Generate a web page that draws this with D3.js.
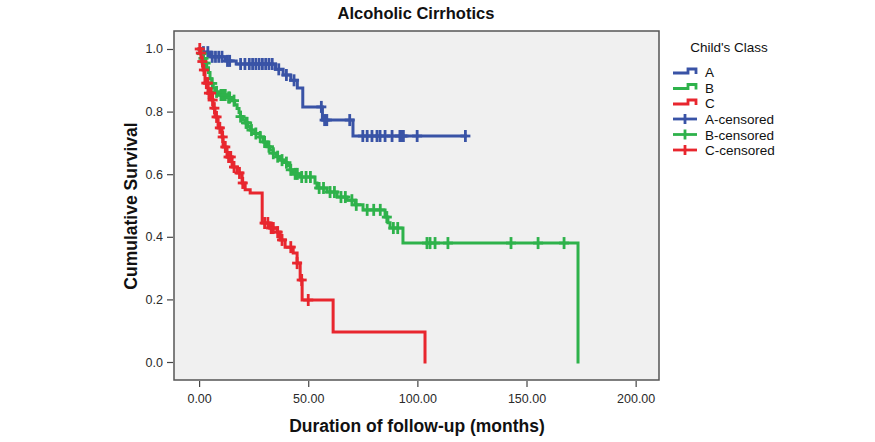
<!DOCTYPE html>
<html>
<head>
<meta charset="utf-8">
<script src="https://cdn.jsdelivr.net/npm/d3@7"></script>
<style>
  html, body { margin: 0; padding: 0; background: #ffffff; }
  svg { display: block; font-family: "Liberation Sans", Arial, sans-serif; }
</style>
</head>
<body>
<svg id="chart" width="875" height="442"></svg>
<script>
// ---------------- DATA ----------------
const chartTitle = "Alcoholic Cirrhotics";
const xTitle = "Duration of follow-up (months)";
const yTitle = "Cumulative Survival";
const legendTitle = "Child's Class";
const groups = ["A", "B", "C"];
const legendLabels = ["A", "B", "C", "A-censored", "B-censored", "C-censored"];
const xTicks = [0, 50, 100, 150, 200];
const yTicks = [0, 0.2, 0.4, 0.6, 0.8, 1.0];

// Kaplan-Meier steps: [time (months), survival after the event]
const stepsA = [[0,1.0],[1,0.99],[5,0.975],[12,0.962],[17,0.952],[35,0.935],[38.5,0.917],
  [42,0.9],[45,0.875],[47.5,0.815],[56.5,0.773],[70.5,0.722]];
const censorA = [2,4,6,7.5,9,10.5,13,14,19,21,23,24.5,26,27.5,29,30.5,32,33.5,36.5,40,43.5,
  56,57.5,58.5,69,75,77,79.2,81.5,82.9,85.2,88.4,92,93,93.6,99.9,122];
const endA = 122;

const stepsB = [[0,1.0],[0.8,0.985],[1.5,0.97],[2.5,0.955],[3.5,0.94],[4.3,0.925],[5,0.905],
  [5.8,0.89],[6.5,0.875],[7.3,0.863],[9,0.853],[13,0.845],[15.1,0.835],[16.3,0.822],[17.4,0.81],
  [18.3,0.797],[18.9,0.784],[20,0.774],[21.2,0.764],[22.3,0.752],[23.4,0.741],[25.5,0.73],
  [27.9,0.719],[29.5,0.703],[31.1,0.688],[32.5,0.677],[33.9,0.667],[35.5,0.656],[37.1,0.645],
  [38.7,0.637],[40.3,0.628],[41.7,0.614],[43.1,0.601],[46.3,0.591],[53.1,0.572],[54,0.556],
  [58.6,0.543],[63.2,0.527],[67.8,0.517],[71.5,0.502],[75.1,0.486],[85.2,0.463],[86.5,0.445],
  [87.5,0.428],[93.4,0.38],[173.6,0.0]];
const censorB = [1.2,2,3,6,8,10,11,12,13.5,14,16,19,21.5,22,24,26,28,30,32,34,36,38,40,42,44,
  45,47,49,51,55,57,60,62,65,67,70,72,77,80,83,86,89,91,104.4,105.8,108.1,114,142.9,155.3,167.2];
const endB = 173.6;

const stepsC = [[0,1.0],[0.5,0.987],[1.2,0.96],[1.8,0.933],[2.7,0.891],[4.1,0.859],[6,0.837],
  [6.4,0.811],[7.3,0.783],[8.7,0.748],[10.5,0.719],[11,0.687],[12.8,0.655],[15.1,0.623],
  [17.4,0.604],[19.7,0.572],[21.1,0.55],[23.4,0.54],[28.9,0.444],[32.5,0.428],[35.7,0.415],
  [37.1,0.39],[39.4,0.367],[43.1,0.348],[44.9,0.316],[46.3,0.262],[47.2,0.198],[61.4,0.096],
  [103.5,0.0]];
const censorC = [0.3,0.8,1.5,2.2,3.3,4,4.5,5.5,6.2,7,8,9.5,10.8,12,13.5,14.5,16,18.5,20,30,31.5,33,34,
  36,38,42,44.9,47,50];
const endC = 103.5;

const colors = ["#3953a6", "#2eb24b", "#e8262e"];

// ---------------- LAYOUT ----------------
const svg = d3.select("#chart");
const plot = { left: 174, right: 659, top: 31, bottom: 380 };

const x = d3.scaleLinear().domain([-11.5, 210.7]).range([plot.left, plot.right]);
const y = d3.scaleLinear().domain([-0.0575, 1.0575]).range([plot.bottom, plot.top]);

// plot background and frame
svg.append("rect")
  .attr("x", plot.left).attr("y", plot.top)
  .attr("width", plot.right - plot.left).attr("height", plot.bottom - plot.top)
  .attr("fill", "#f0f0f0").attr("stroke", "#555").attr("stroke-width", 1.5);

// axes
const xAxis = d3.axisBottom(x).tickValues(xTicks).tickSize(6).tickPadding(7)
  .tickFormat(d3.format(".2f"));
const gx = svg.append("g").attr("transform", `translate(0,${plot.bottom + 1})`).call(xAxis);
gx.select(".domain").remove();
gx.selectAll("line").attr("stroke", "#444").attr("stroke-width", 1.2);
gx.selectAll("text").attr("font-size", 12.5).attr("fill", "#2a2a2a")
  .attr("font-family", "Liberation Sans, Arial, sans-serif");

const yAxis = d3.axisLeft(y).tickValues(yTicks).tickSize(6).tickPadding(4)
  .tickFormat(d3.format(".1f"));
const gy = svg.append("g").attr("transform", `translate(${plot.left - 1},0)`).call(yAxis);
gy.select(".domain").remove();
gy.selectAll("line").attr("stroke", "#444").attr("stroke-width", 1.2);
gy.selectAll("text").attr("font-size", 12.5).attr("fill", "#2a2a2a")
  .attr("font-family", "Liberation Sans, Arial, sans-serif");

// titles
svg.append("text").attr("x", 416).attr("y", 19).attr("text-anchor", "middle")
  .attr("font-size", 16.5).attr("font-weight", "bold").attr("fill", "#111").text(chartTitle);
svg.append("text").attr("x", 417).attr("y", 432).attr("text-anchor", "middle")
  .attr("font-size", 17.5).attr("font-weight", "bold").attr("fill", "#111").text(xTitle);
svg.append("text").attr("transform", "translate(137,206) rotate(-90)").attr("text-anchor", "middle")
  .attr("font-size", 17.5).attr("font-weight", "bold").attr("fill", "#111").text(yTitle);

// curves
const allSteps = [stepsA, stepsB, stepsC];
const allCensor = [censorA, censorB, censorC];
const allEnd = [endA, endB, endC];

const line = d3.line().x(d => x(d[0])).y(d => y(d[1])).curve(d3.curveStepAfter);
function survAt(steps, t) {
  let s = steps[0][1];
  for (const st of steps) { if (st[0] <= t) s = st[1]; }
  return s;
}

const clipG = svg.append("g");
allSteps.forEach((steps, i) => {
  const pts = steps.slice();
  const last = pts[pts.length - 1];
  if (last[0] < allEnd[i]) pts.push([allEnd[i], last[1]]);
  clipG.append("path").datum(pts).attr("d", line)
    .attr("fill", "none").attr("stroke", colors[i]).attr("stroke-width", 3)
    .attr("stroke-linejoin", "miter").attr("stroke-linecap", "square");
});
allCensor.forEach((times, i) => {
  const g = clipG.append("g").attr("stroke", colors[i]).attr("stroke-width", 2.8);
  times.forEach(t => {
    const cx = x(t), cy = y(survAt(allSteps[i], t));
    g.append("line").attr("x1", cx).attr("x2", cx).attr("y1", cy - 6).attr("y2", cy + 6);
    g.append("line").attr("x1", cx - 5).attr("x2", cx + 5).attr("y1", cy).attr("y2", cy);
  });
});

// legend
const lg = svg.append("g");
lg.append("text").attr("x", 729).attr("y", 52).attr("text-anchor", "middle")
  .attr("font-size", 13.5).attr("fill", "#111").text(legendTitle);
const legendY = [72, 87.5, 103, 119, 134.5, 150];
legendLabels.forEach((lab, k) => {
  const cy = legendY[k];
  const col = colors[k % 3];
  if (k < 3) {
    lg.append("path")
      .attr("d", `M673,${cy + 1}H688V${cy - 3}H696V${cy + 2}`)
      .attr("fill", "none").attr("stroke", col).attr("stroke-width", 2.8);
  } else {
    lg.append("line").attr("x1", 673).attr("x2", 697).attr("y1", cy).attr("y2", cy)
      .attr("stroke", col).attr("stroke-width", 2.8);
    lg.append("line").attr("x1", 685).attr("x2", 685).attr("y1", cy - 5).attr("y2", cy + 5)
      .attr("stroke", col).attr("stroke-width", 2.8);
  }
  lg.append("text").attr("x", 705).attr("y", cy + 5).attr("font-size", 13.5)
    .attr("fill", "#111").text(lab);
});
</script>
</body>
</html>
